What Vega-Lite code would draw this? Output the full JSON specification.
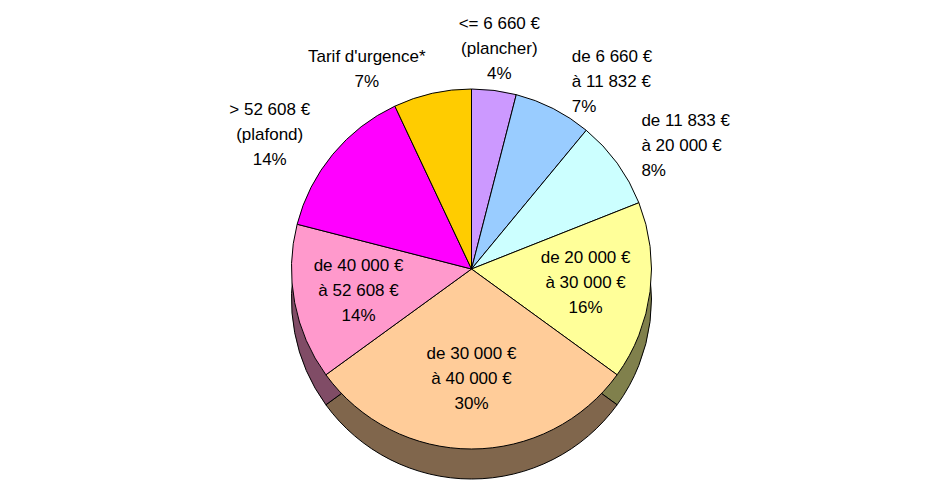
{
  "$schema": "https://vega.github.io/schema/vega-lite/v6.json",
  "width": 943,
  "height": 486,
  "padding": {"top": 40, "bottom": 0, "left": 0, "right": 0},
  "autosize": {"type": "fit", "contains": "padding"},
  "background": "white",
  "config": {"view": {"stroke": null}, "text": {"font": "Liberation Sans", "fontSize": 17, "lineHeight": 25, "color": "black", "lineBreak": "\n"}},
  "data": {
    "values": [
      {"cat": "<= 6 660 € (plancher)", "label": "<= 6 660 €\n(plancher)\n4%", "share": 4, "order": 1},
      {"cat": "de 6 660 € à 11 832 €", "label": "de 6 660 €\nà 11 832 €\n7%", "share": 7, "order": 2},
      {"cat": "de 11 833 € à 20 000 €", "label": "de 11 833 €\nà 20 000 €\n8%", "share": 8, "order": 3},
      {"cat": "de 20 000 € à 30 000 €", "label": "de 20 000 €\nà 30 000 €\n16%", "share": 16, "order": 4},
      {"cat": "de 30 000 € à 40 000 €", "label": "de 30 000 €\nà 40 000 €\n30%", "share": 30, "order": 5},
      {"cat": "de 40 000 € à 52 608 €", "label": "de 40 000 €\nà 52 608 €\n14%", "share": 14, "order": 6},
      {"cat": "> 52 608 € (plafond)", "label": "> 52 608 €\n(plafond)\n14%", "share": 14, "order": 7},
      {"cat": "Tarif d'urgence*", "label": "Tarif d'urgence*\n7%", "share": 7, "order": 8}
    ]
  },
  "encoding": {
    "theta": {"field": "share", "type": "quantitative", "stack": true},
    "order": {"field": "order", "type": "quantitative"}
  },
  "layer": [
    {
      "mark": {"type": "arc", "outerRadius": 180, "yOffset": 30, "stroke": "black", "strokeWidth": 1},
      "encoding": {
        "color": {
          "field": "cat", "type": "nominal", "legend": null,
          "scale": {
            "domain": ["<= 6 660 € (plancher)", "de 6 660 € à 11 832 €", "de 11 833 € à 20 000 €", "de 20 000 € à 30 000 €", "de 30 000 € à 40 000 €", "de 40 000 € à 52 608 €", "> 52 608 € (plafond)", "Tarif d'urgence*"],
            "range": ["#664c80", "#4c6680", "#668080", "#80804c", "#80664c", "#804c66", "#800080", "#806600"]
          }
        }
      }
    },
    {
      "mark": {"type": "arc", "outerRadius": 180, "stroke": "black", "strokeWidth": 1},
      "encoding": {
        "color": {
          "field": "cat", "type": "nominal", "legend": null,
          "scale": {
            "domain": ["<= 6 660 € (plancher)", "de 6 660 € à 11 832 €", "de 11 833 € à 20 000 €", "de 20 000 € à 30 000 €", "de 30 000 € à 40 000 €", "de 40 000 € à 52 608 €", "> 52 608 € (plafond)", "Tarif d'urgence*"],
            "range": ["#cc99ff", "#99ccff", "#ccffff", "#ffff99", "#ffcc99", "#ff99cc", "#ff00ff", "#ffcc00"]
          }
        }
      }
    },
    {
      "mark": {"type": "text", "radius": 222, "align": "center", "baseline": "middle", "dy": -25},
      "encoding": {"text": {"condition": {"test": "datum.order == 1", "field": "label"}, "value": ""}}
    },
    {
      "mark": {"type": "text", "radius": 210, "align": "left", "baseline": "middle", "dx": 5, "dy": -25},
      "encoding": {"text": {"condition": {"test": "datum.order == 2", "field": "label"}, "value": ""}}
    },
    {
      "mark": {"type": "text", "radius": 210, "align": "left", "baseline": "middle", "dy": -25},
      "encoding": {"text": {"condition": {"test": "datum.order == 3", "field": "label"}, "value": ""}}
    },
    {
      "mark": {"type": "text", "radius": 115, "align": "center", "baseline": "middle", "dy": -25},
      "encoding": {"text": {"condition": {"test": "datum.order == 4", "field": "label"}, "value": ""}}
    },
    {
      "mark": {"type": "text", "radius": 110, "align": "center", "baseline": "middle", "dy": -25},
      "encoding": {"text": {"condition": {"test": "datum.order == 5", "field": "label"}, "value": ""}}
    },
    {
      "mark": {"type": "text", "radius": 115, "align": "center", "baseline": "middle", "dy": -25},
      "encoding": {"text": {"condition": {"test": "datum.order == 6", "field": "label"}, "value": ""}}
    },
    {
      "mark": {"type": "text", "radius": 210, "align": "center", "baseline": "middle", "dx": -40, "dy": -25},
      "encoding": {"text": {"condition": {"test": "datum.order == 7", "field": "label"}, "value": ""}}
    },
    {
      "mark": {"type": "text", "radius": 205, "align": "center", "baseline": "middle", "dx": -60, "dy": -12},
      "encoding": {"text": {"condition": {"test": "datum.order == 8", "field": "label"}, "value": ""}}
    }
  ],
  "resolve": {"scale": {"color": "independent"}}
}
